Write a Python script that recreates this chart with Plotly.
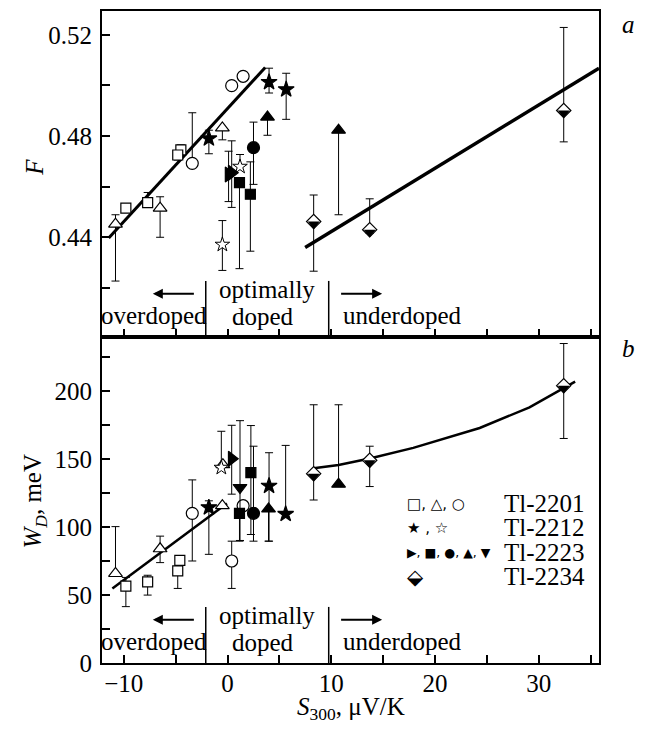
import plotly.graph_objects as go
from plotly.subplots import make_subplots

# ---------------- data: panel a (F vs S300) ----------------
# Tl-2201
a_sq_x = [-9.8, -7.7, -4.5, -4.8]
a_sq_y = [0.4515, 0.4537, 0.4745, 0.4725]
a_sq_ep = [0.0, 0.004, 0.002, 0.0]
a_sq_em = [0.0, 0.0, 0.0, 0.002]

a_tri_x = [-10.8, -6.5, -0.5]
a_tri_y = [0.4452, 0.4515, 0.4832]
a_tri_ep = [0.0037, 0.0045, 0.0]
a_tri_em = [0.0225, 0.0115, 0.0047]

a_cir_x = [-3.4, 0.4, 1.5]
a_cir_y = [0.4692, 0.4999, 0.5036]
a_cir_ep = [0.020, 0.0, 0.0]
a_cir_em = [0.0, 0.0, 0.0]

# Tl-2212
a_star_x = [-1.8, 4.0, 5.65]
a_star_y = [0.4790, 0.5013, 0.4984]
a_star_ep = [0.0033, 0.0055, 0.0064]
a_star_em = [0.0060, 0.0043, 0.0118]

a_ostar_x = [-0.5, 1.2]
a_ostar_y = [0.4371, 0.4679]
a_ostar_ep = [0.0095, 0.0048]
a_ostar_em = [0.0102, 0.0]

# Tl-2223
a_rtri_x = [0.1, 0.4]
a_rtri_y = [0.4648, 0.4655]
a_rtri_ep = [0.0092, 0.0126]
a_rtri_em = [0.0107, 0.0137]

a_fsq_x = [1.15, 2.2]
a_fsq_y = [0.4616, 0.4570]
a_fsq_ep = [0.0, 0.0128]
a_fsq_em = [0.0340, 0.0225]

a_fcir_x = [2.5]
a_fcir_y = [0.4754]
a_fcir_ep = [0.0101]
a_fcir_em = [0.0145]

a_ftri_x = [3.85, 10.7]
a_ftri_y = [0.4875, 0.4823]
a_ftri_ep = [0.0, 0.0]
a_ftri_em = [0.0072, 0.0334]

# Tl-2234
a_dia_x = [8.3, 13.7, 32.4]
a_dia_y = [0.4462, 0.4430, 0.4901]
a_dia_ep = [0.0105, 0.0122, 0.0328]
a_dia_em = [0.0196, 0.0015, 0.0124]

# fit lines
a_fit1_x = [-11.45, 3.63]
a_fit1_y = [0.4397, 0.5071]
a_fit2_x = [7.48, 35.8]
a_fit2_y = [0.4360, 0.5068]

# ---------------- data: panel b (W_D vs S300) ----------------
b_sq_x = [-9.8, -7.7, -4.6, -4.8]
b_sq_y = [56.6, 59.7, 75.6, 67.8]
b_sq_ep = [6.4, 4.9, 0.0, 0.0]
b_sq_em = [15.1, 9.7, 0.0, 12.9]

b_tri_x = [-10.8, -6.5, -0.5, -0.45]
b_tri_y = [65.9, 84.1, 115.8, 146.0]
b_tri_ep = [34.5, 9.3, 0.0, 0.0]
b_tri_em = [0.0, 10.2, 0.0, 0.0]

b_cir_x = [-3.4, 0.4, 1.5]
b_cir_y = [110.2, 75.1, 115.8]
b_cir_ep = [24.6, 14.6, 0.0]
b_cir_em = [35.1, 20.2, 0.0]

b_star_x = [-1.8, 4.0, 5.6]
b_star_y = [114.5, 130.4, 109.7]
b_star_ep = [4.9, 24.4, 50.5]
b_star_em = [34.5, 40.7, 0.0]

b_ostar_x = [-0.6]
b_ostar_y = [143.8]
b_ostar_ep = [26.8]
b_ostar_em = [0.0]

b_rtri_x = [0.4]
b_rtri_y = [150.4]
b_rtri_ep = [24.6]
b_rtri_em = [26.1]

b_dtri_x = [1.2]
b_dtri_y = [129.2]
b_dtri_ep = [49.2]
b_dtri_em = [39.0]

b_fsq_x = [1.15, 2.25]
b_fsq_y = [110.2, 140.1]
b_fsq_ep = [0.0, 34.7]
b_fsq_em = [20.5, 45.5]

b_fcir_x = [2.5]
b_fcir_y = [110.2]
b_fcir_ep = [49.4]
b_fcir_em = [20.5]

b_ftri_x = [3.95, 10.7]
b_ftri_y = [113.4, 131.6]
b_ftri_ep = [0.0, 58.5]
b_ftri_em = [23.7, 0.0]

b_dia_x = [8.3, 13.7, 32.4]
b_dia_y = [139.4, 149.2, 204.2]
b_dia_ep = [50.7, 10.4, 31.0]
b_dia_em = [19.4, 19.3, 38.9]

b_fit_x = [-11.1, -0.06]
b_fit_y = [54.9, 117.5]
b_curve_x = [8.3, 10.7, 13.7, 17.9, 24.3, 29.1, 33.5]
b_curve_y = [143.3, 145.8, 150.6, 158.4, 173.0, 188.2, 207.2]

# axis ticks
x_tickvals = [-10, -5, 0, 5, 10, 15, 20, 25, 30, 35]
x_ticktext = ["\u221210", "", "0", "", "10", "", "20", "", "30", ""]
a_tickvals = [0.42, 0.44, 0.46, 0.48, 0.50, 0.52]
a_ticktext = ["", "0.44", "", "0.48", "", "0.52"]
b_tickvals = [0, 25, 50, 75, 100, 125, 150, 175, 200, 225]
b_ticktext = ["0", "", "50", "", "100", "", "150", "", "200", ""]

legend_symbols = ["\u25a1, \u25b3, \u25cb", "\u2605 , \u2606", "\u25b6, \u25a0, \u25cf, \u25b2, \u25bc", "\u2b19"]
legend_sym_sizes = [15, 15, 12.5, 21]
legend_names = ["Tl-2201", "Tl-2212", "Tl-2223", "Tl-2234"]

SERIF = "Liberation Serif"
FS = 25

fig = make_subplots(rows=2, cols=1, shared_xaxes=True, vertical_spacing=0)


def add_pts(x, y, ep, em, symbol, fill, size, row, line_w=1.2):
    fig.add_trace(go.Scatter(
        x=x, y=y, mode="markers",
        marker=dict(symbol=symbol, size=size, color=fill,
                    line=dict(color="black", width=line_w)),
        error_y=dict(type="data", symmetric=False, array=ep, arrayminus=em,
                     color="black", thickness=1, width=4),
        showlegend=False, hoverinfo="skip"), row=row, col=1)


def add_halfdia(x, y, ep, em, row):
    add_pts(x, y, ep, em, "diamond", "white", 11, row)
    fig.add_trace(go.Scatter(
        x=x, y=y, mode="markers",
        marker=dict(symbol="triangle-down", size=10.4, color="black",
                    standoff=2.6, line=dict(width=0)),
        showlegend=False, hoverinfo="skip"), row=row, col=1)


def add_line(x, y, row, w):
    fig.add_trace(go.Scatter(x=x, y=y, mode="lines", line=dict(color="black", width=w),
                             showlegend=False, hoverinfo="skip"), row=row, col=1)


# panel a
add_line(a_fit1_x, a_fit1_y, 1, 3)
add_line(a_fit2_x, a_fit2_y, 1, 3.5)
add_pts(a_sq_x, a_sq_y, a_sq_ep, a_sq_em, "square", "white", 10, 1)
add_pts(a_tri_x, a_tri_y, a_tri_ep, a_tri_em, "triangle-up", "white", 12, 1)
add_pts(a_cir_x, a_cir_y, a_cir_ep, a_cir_em, "circle", "white", 12, 1)
add_pts(a_ostar_x, a_ostar_y, a_ostar_ep, a_ostar_em, "star", "white", 11, 1, 1)
add_pts(a_fsq_x, a_fsq_y, a_fsq_ep, a_fsq_em, "square", "black", 10, 1)
add_pts(a_fcir_x, a_fcir_y, a_fcir_ep, a_fcir_em, "circle", "black", 12, 1)
add_pts(a_ftri_x, a_ftri_y, a_ftri_ep, a_ftri_em, "triangle-up", "black", 12, 1)
add_pts(a_rtri_x, a_rtri_y, a_rtri_ep, a_rtri_em, "triangle-right", "black", 13, 1)
add_pts(a_star_x, a_star_y, a_star_ep, a_star_em, "star", "black", 12, 1)
add_halfdia(a_dia_x, a_dia_y, a_dia_ep, a_dia_em, 1)

# panel b
add_line(b_fit_x, b_fit_y, 2, 2.5)
add_line(b_curve_x, b_curve_y, 2, 2.5)
add_pts(b_sq_x, b_sq_y, b_sq_ep, b_sq_em, "square", "white", 10, 2)
add_pts(b_tri_x, b_tri_y, b_tri_ep, b_tri_em, "triangle-up", "white", 12, 2)
add_pts(b_cir_x, b_cir_y, b_cir_ep, b_cir_em, "circle", "white", 12, 2)
add_pts(b_ostar_x, b_ostar_y, b_ostar_ep, b_ostar_em, "star", "white", 11, 2, 1)
add_pts(b_fsq_x, b_fsq_y, b_fsq_ep, b_fsq_em, "square", "black", 10, 2)
add_pts(b_fcir_x, b_fcir_y, b_fcir_ep, b_fcir_em, "circle", "black", 12, 2)
add_pts(b_ftri_x, b_ftri_y, b_ftri_ep, b_ftri_em, "triangle-up", "black", 12, 2)
add_pts(b_dtri_x, b_dtri_y, b_dtri_ep, b_dtri_em, "triangle-down", "black", 12, 2)
add_pts(b_rtri_x, b_rtri_y, b_rtri_ep, b_rtri_em, "triangle-right", "black", 13, 2)
add_pts(b_star_x, b_star_y, b_star_ep, b_star_em, "star", "black", 12, 2)
add_halfdia(b_dia_x, b_dia_y, b_dia_ep, b_dia_em, 2)

axis_common = dict(showline=True, linecolor="black", linewidth=2, mirror=True,
                   ticks="inside", ticklen=8, tickwidth=1.5, tickcolor="black",
                   showgrid=False, zeroline=False,
                   tickfont=dict(family=SERIF, size=FS, color="black"))

fig.update_xaxes(range=[-12.1, 35.8], tickvals=x_tickvals, ticktext=x_ticktext,
                 **axis_common)
fig.update_xaxes(showticklabels=False, row=1, col=1)
fig.update_xaxes(showticklabels=True, ticklabelstandoff=-3, row=2, col=1)
fig.update_yaxes(range=[0.4006, 0.5294], tickvals=a_tickvals, ticktext=a_ticktext,
                 ticklabelstandoff=3, row=1, col=1, **axis_common)
fig.update_yaxes(range=[0, 240], tickvals=b_tickvals, ticktext=b_ticktext,
                 ticklabelstandoff=3, row=2, col=1, **axis_common)

tf = dict(family=SERIF, size=FS, color="black")
C = dict(xanchor="center", yanchor="middle", showarrow=False)

shapes = []
anns = []
for xr, yr in [("x", "y domain"), ("x2", "y2 domain")]:
    for xs in [-2.1, 9.75]:
        shapes.append(dict(type="line", xref=xr, yref=yr, x0=xs, x1=xs, y0=0, y1=0.172,
                           line=dict(color="black", width=1.5)))
    anns += [
        dict(xref=xr, yref=yr, x=-7.1, y=0.066, text="overdoped", font=tf, **C),
        dict(xref=xr, yref=yr, x=3.85, y=0.145, text="optimally", font=tf, **C),
        dict(xref=xr, yref=yr, x=3.4, y=0.062, text="doped", font=tf, **C),
        dict(xref=xr, yref=yr, x=16.9, y=0.066, text="underdoped", font=tf, **C),
        dict(xref=xr, yref=yr, x=-7.2, y=0.133, ax=-3.1, axref=xr, ay=0, ayref="pixel",
             text="", showarrow=True, arrowhead=2, arrowsize=1, arrowwidth=2, arrowcolor="black"),
        dict(xref=xr, yref=yr, x=14.9, y=0.133, ax=10.8, axref=xr, ay=0, ayref="pixel",
             text="", showarrow=True, arrowhead=2, arrowsize=1, arrowwidth=2, arrowcolor="black"),
    ]

anns += [
    dict(xref="paper", yref="paper", x=-0.135, y=0.761, text="<i>F</i>",
         textangle=-90, font=tf, **C),
    dict(xref="paper", yref="paper", x=-0.135, y=0.249, text="<i>W</i><sub><i>D</i></sub>, meV",
         textangle=-90, font=tf, **C),
    dict(xref="paper", yref="paper", x=0.5, y=-0.07, text="<i>S</i><sub>300</sub>, \u03bcV/K",
         font=tf, **C),
    dict(xref="paper", yref="paper", x=1.06, y=0.9786, text="<i>a</i>", font=tf, **C),
    dict(xref="paper", yref="paper", x=1.06, y=0.4817, text="<i>b</i>", font=tf, **C),
]
row_y = [0.2446, 0.2072, 0.1697, 0.1323]
for sym, ssz, name, yy in zip(legend_symbols, legend_sym_sizes, legend_names, row_y):
    anns.append(dict(xref="paper", yref="paper", x=0.61, y=yy, xanchor="left", yanchor="middle",
                     text=sym, showarrow=False,
                     font=dict(family="DejaVu Sans", size=ssz, color="black")))
    anns.append(dict(xref="paper", yref="paper", x=0.975, y=yy, xanchor="right", yanchor="middle",
                     text=name, showarrow=False, font=tf))

# page body has an 8px margin, so the figure is sized to fit the window
fig.update_layout(width=637, height=715, margin=dict(l=94, r=46, t=1, b=60),
                  plot_bgcolor="white", paper_bgcolor="white",
                  shapes=shapes, annotations=anns, showlegend=False)

fig.write_html("out.html")
